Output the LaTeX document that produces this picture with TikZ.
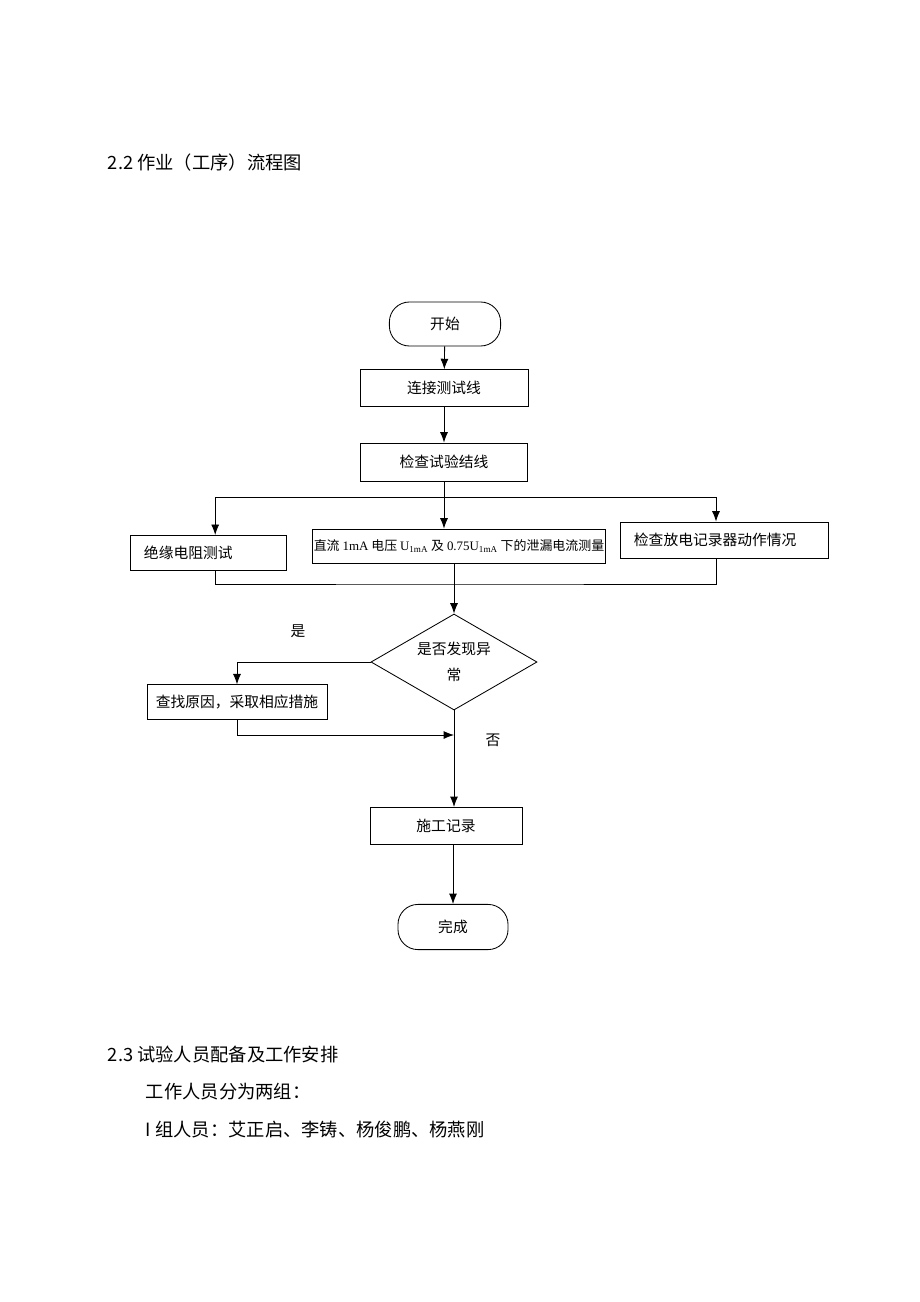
\documentclass[tikz,border=0pt]{standalone}
\usepackage{fontspec}
\setmainfont{Noto Sans CJK SC}
\newfontfamily\latin{Liberation Serif}
\usepackage{tikz}
\usetikzlibrary{arrows.meta, positioning, shapes.geometric}

\begin{document}
\begin{tikzpicture}[
    x=0.025cm, y=-0.025cm,
    every node/.style={font=\fontsize{10.5}{13}\selectfont},
    terminal/.style={
        rectangle,
        rounded corners=0.5cm,
        draw,
        line width=0.6pt,
        minimum width=2.78cm,
        minimum height=1.1cm
    },
    box/.style={
        rectangle,
        draw,
        line width=0.6pt,
        minimum height=0.92cm,
        align=center
    },
    leftbox/.style={
        box,
        align=left,
        inner xsep=0.35cm
    },
    decision/.style={
        diamond,
        draw,
        line width=0.6pt,
        aspect=1.73,
        inner sep=0pt,
        minimum width=4.15cm,
        minimum height=2.4cm,
        align=center,
        font=\fontsize{10.5}{18.5}\selectfont
    },
    heading/.style={
        anchor=west,
        font=\fontsize{13}{15}\selectfont
    },
    arrow/.style={
        -{Latex[length=2.6mm, width=2mm]},
        line width=0.6pt
    },
    link/.style={
        line width=0.6pt
    }
]
\useasboundingbox (0,0) rectangle (920,1302);

% Heading
\node[heading] (title) at (103,163) {2.2 作业（工序）流程图};

% Flow nodes
\node[terminal] (start) at (445,324) {开始};
\node[box, minimum width=4.2cm] (connect) at (444,388) {连接测试线};
\node[box, minimum width=4.18cm, minimum height=0.95cm] (check) at (444,462) {检查试验结线};

% Three parallel tests
\node[leftbox, text width=3.2cm, minimum height=0.88cm] (insul) at (208,553) {绝缘电阻测试};
\node[box, minimum width=7.3cm, minimum height=0.85cm, inner xsep=1pt,
      font=\fontsize{9.2}{12}\selectfont] (leak) at (459,546)
    {直流 {\latin 1mA} 电压 {\latin U\textsubscript{1mA}} 及 {\latin 0.75U\textsubscript{1mA}} 下的泄漏电流测量};
\node[leftbox, text width=4.5cm, minimum height=0.9cm] (disch) at (724,540) {检查放电记录器动作情况};

\node[decision] (decide) at (454,662) {是否发现异\\常};
\node[box, minimum width=4.5cm, minimum height=0.86cm] (fix) at (237,702) {查找原因，采取相应措施};
\node[box, minimum width=3.8cm, minimum height=0.93cm] (log) at (446,826) {施工记录};
\node[terminal, minimum width=2.75cm, minimum height=1.13cm] (done) at (453,927) {完成};

% Labels
\node (yes) at (298,631) {是};
\node (no) at (493,740) {否};

% Helper points
\coordinate (split) at (444,497);
\coordinate (merge) at (454,584);
\coordinate (rejoin) at (454,735);

% Arrows
\draw[arrow] (start) -- (connect);
\draw[arrow] (connect) -- (check);
\draw[arrow] (check.south) -- (check.south |- leak.north);
\draw[arrow] (split) -| ([xshift=0.18cm]insul.north);
\draw[arrow] (split) -| ([xshift=-0.2cm]disch.north);
\draw[link] ([xshift=0.18cm]insul.south) |- (merge) -| ([xshift=-0.2cm]disch.south);
\draw[arrow] (merge |- leak.south) -- (decide.north);
\draw[arrow] (decide.west) -| (fix.north);
\draw[arrow] (fix.south) |- (rejoin);
\draw[arrow] (decide.south) -- (decide.south |- log.north);
\draw[arrow] (log.south -| done.north) -- (done.north);

% Text below
\node[heading] (sect) at (103,1055) {2.3 试验人员配备及工作安排};
\node[heading] (groups) at (141,1092) {工作人员分为两组：};
\node[heading] (team) at (141,1130) {I 组人员：艾正启、李铸、杨俊鹏、杨燕刚};
\end{tikzpicture}
\end{document}
